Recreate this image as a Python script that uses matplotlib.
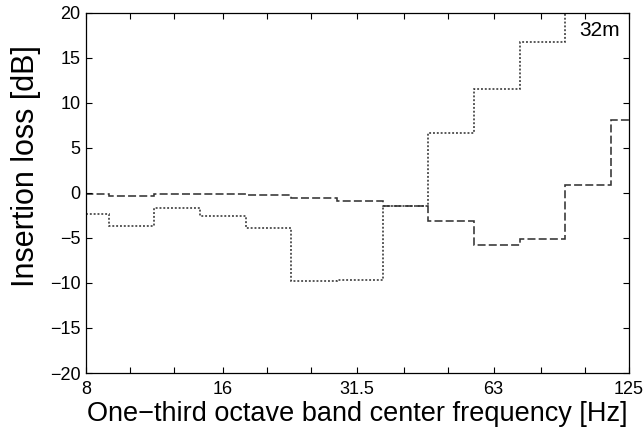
import matplotlib
matplotlib.use("Agg")
import matplotlib.pyplot as plt
import numpy as np

plt.rcParams["font.family"] = ["Liberation Sans", "DejaVu Sans"]

# one-third octave bands, 8 .. 125 Hz
band_centers = [8, 10, 12.5, 16, 20, 25, 31.5, 40, 50, 63, 80, 100, 125]
tick_labels = ["8", "", "", "16", "", "", "31.5", "", "", "63", "", "", "125"]

# insertion loss per band [dB]
il_dashed = [-0.1, -0.4, -0.1, -0.15, -0.25, -0.6, -0.95, -1.5, -3.1, -5.8, -5.1, 0.9, 8.1]
il_dotted = [-2.35, -3.65, -1.65, -2.6, -3.95, -9.75, -9.7, -1.5, 6.6, 11.5, 16.7, 22.0, 25.0]

n = len(band_centers)
edges = 8.0 * 2.0 ** ((np.arange(n + 1) - 0.5) / 3.0)

fig = plt.figure(figsize=(6.44, 4.29), dpi=100)
ax = fig.add_axes([0.1335, 0.1305, 0.8432, 0.8399])

line_c = "#333333"
ax.stairs(il_dashed, edges, color=line_c, lw=1.15, ls=(0, (5.0, 2.0)), baseline=None)
ax.stairs(il_dotted, edges, color=line_c, lw=1.15, ls=(0, (1.2, 1.2)), baseline=None)

ax.set_xscale("log")
ax.set_xlim(8, 125)
ax.set_ylim(-20, 20)
ax.set_xticks(band_centers)
ax.set_xticklabels(tick_labels)
ax.xaxis.set_minor_locator(matplotlib.ticker.NullLocator())
ax.set_yticks(np.arange(-20, 21, 5))

ax.tick_params(direction="in", top=True, right=True, length=4, width=0.8,
               labelsize=13)
ax.tick_params(axis="x", pad=6)
ax.tick_params(axis="y", pad=4)
for s in ax.spines.values():
    s.set_linewidth(0.9)

ax.set_xlabel("One\u2212third octave band center frequency [Hz]", fontsize=19.5)
ax.set_ylabel("Insertion loss [dB]", fontsize=22)
ax.xaxis.set_label_coords(0.5, -0.078)
ax.yaxis.set_label_coords(-0.082, 0.575)
ax.text(0.983, 0.978, "32m", transform=ax.transAxes, ha="right", va="top", fontsize=15)

fig.savefig("out.png", dpi=100)
